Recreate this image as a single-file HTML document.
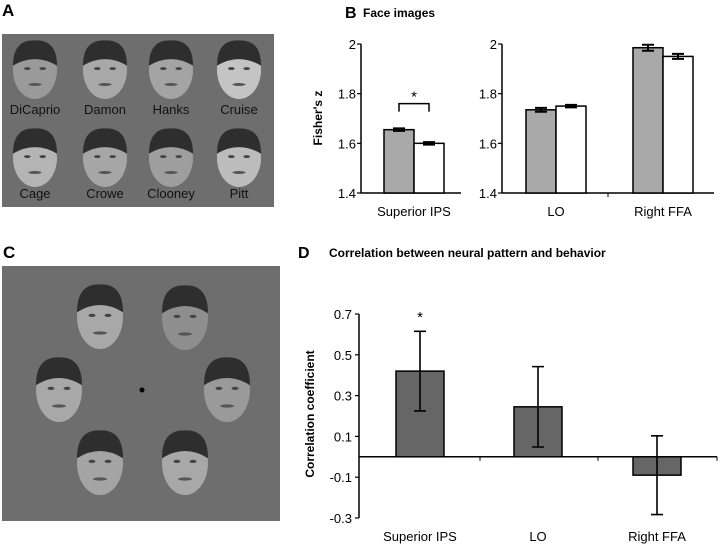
<!DOCTYPE html>
<html><head><meta charset="utf-8"><style>
body{margin:0;background:#fff;width:720px;height:546px;overflow:hidden}
svg{display:block}
text{font-family:"Liberation Sans",Arial,sans-serif}
</style></head><body>
<svg id="fig" width="720" height="546" viewBox="0 0 720 546">
<text x="2" y="16" font-size="17" font-weight="bold">A</text>
<text x="345" y="18" font-size="16" font-weight="bold">B</text>
<text x="363" y="17" font-size="12" font-weight="bold">Face images</text>
<text x="3" y="258" font-size="17" font-weight="bold">C</text>
<text x="298" y="258" font-size="16" font-weight="bold">D</text>
<text x="329" y="257" font-size="12" font-weight="bold">Correlation between neural pattern and behavior</text>
<rect x="2" y="34" width="272" height="173" fill="#6e6e6e"/>
<rect x="2" y="266" width="278" height="255" fill="#6e6e6e"/>
<circle cx="142" cy="390" r="2.5" fill="#000"/>
<g id="faces"></g>
<g id="chartB"></g>
<g id="chartD"></g>
</svg>
<script>
var NS="http://www.w3.org/2000/svg";
function mk(parent,tag,attrs,txt){var e=document.createElementNS(NS,tag);for(var k in attrs)e.setAttribute(k,attrs[k]);if(txt!==undefined)e.textContent=txt;parent.appendChild(e);return e;}

var faceNames=["DiCaprio","Damon","Hanks","Cruise","Cage","Crowe","Clooney","Pitt"];
var faceCols=[35,105,171,239];
var fg=document.getElementById('faces');
function face(cx,cy,rx,ry,shade){
  var g=mk(fg,'g',{});
  
  
  mk(g,'ellipse',{cx:cx,cy:cy,rx:rx,ry:ry,fill:shade});
  mk(g,'path',{d:'M'+(cx-rx)+' '+(cy-ry*0.15)+' Q'+(cx-rx)+' '+(cy-ry*1.05)+' '+cx+' '+(cy-ry*1.02)+' Q'+(cx+rx)+' '+(cy-ry*1.05)+' '+(cx+rx)+' '+(cy-ry*0.15)+' Q'+cx+' '+(cy-ry*0.6)+' '+(cx-rx)+' '+(cy-ry*0.15)+'Z',fill:'#2e2e2e'});
  mk(g,'ellipse',{cx:cx-rx*0.35,cy:cy-ry*0.05,rx:rx*0.15,ry:ry*0.05,fill:'#444'});
  mk(g,'ellipse',{cx:cx+rx*0.35,cy:cy-ry*0.05,rx:rx*0.15,ry:ry*0.05,fill:'#444'});
  mk(g,'ellipse',{cx:cx,cy:cy+ry*0.5,rx:rx*0.3,ry:ry*0.05,fill:'#555'});
}
for(var i=0;i<8;i++){
  var cx=faceCols[i%4], r=Math.floor(i/4);
  face(cx,r?158:70,22,29,['#9a9a9a','#a8a8a8','#a4a4a4','#c4c4c4','#b4b4b4','#a6a6a6','#9e9e9e','#bcbcbc'][i]);
  var t=mk(fg,'text',{x:cx,y:r?198:114,'font-size':13,'text-anchor':'middle',fill:'#111'},faceNames[i]);
  
  
}
[[100,317],[185,318],[59,390],[227,390],[100,463],[185,463]].forEach(function(p,i){face(p[0],p[1],23,32,['#a8a8a8','#8e8e8e','#a8a8a8','#9a9a9a','#a4a4a4','#a8a8a8'][i]);});

var bCats=["Superior IPS","LO","Right FFA"];
var bGray=[1.655,1.735,1.985];
var bGrayErr=[0.005,0.008,0.012];
var bWhite=[1.600,1.750,1.950];
var bWhiteErr=[0.005,0.005,0.010];
var bTicks=[1.4,1.6,1.8,2];
var bTickLabels=["1.4","1.6","1.8","2"];

var dCats=["Superior IPS","LO","Right FFA"];
var dVals=[0.42,0.245,-0.09];
var dErr=[0.195,0.197,0.193];
var dTicks=[-0.3,-0.1,0.1,0.3,0.5,0.7];
var dTickLabels=["-0.3","-0.1","0.1","0.3","0.5","0.7"];

(function(){
  var g=document.getElementById('chartB');
  var y0=193,y1=44,ymin=1.4,ymax=2;
  function Y(v){return y0-(v-ymin)/(ymax-ymin)*(y0-y1);}
  var centers=[414,556,663];
  function X(i){return centers[i];}
  var axes=[[361,461],[502,714]];
  axes.forEach(function(a,k){
    var l=mk(g,'line',{x1:a[0],y1:y1,x2:a[0],y2:y0,stroke:'#000','stroke-width':1.5});
    
    
    var xl=mk(g,'line',{x1:a[0],y1:y0,x2:a[1],y2:y0,stroke:'#000','stroke-width':1.5});
    
    
    bTicks.forEach(function(t,j){
      mk(g,'line',{x1:a[0]-4,y1:Y(t),x2:a[0],y2:Y(t),stroke:'#000','stroke-width':1.2});
      var tl=mk(g,'text',{x:a[0]-5,y:Y(t)+5,'font-size':13,'text-anchor':'end'},bTickLabels[j]);
      
      
    });
  });
  mk(g,'line',{x1:608,y1:y0,x2:608,y2:y0+4,stroke:'#000'});
  var yt=mk(g,'text',{x:0,y:0,'font-size':12,'font-weight':'bold','text-anchor':'middle',transform:'translate(322,118) rotate(-90)'},"Fisher's z");
  
  
  var bw=30;
  bCats.forEach(function(c,i){
    var cx=X(i);
    var r1=mk(g,'rect',{x:cx-bw,y:Y(bGray[i]),width:bw,height:y0-Y(bGray[i]),fill:'#a9a9a9',stroke:'#000','stroke-width':1.5});
    
    
    var r2=mk(g,'rect',{x:cx,y:Y(bWhite[i]),width:bw,height:y0-Y(bWhite[i]),fill:'#fff',stroke:'#000','stroke-width':1.5});
    
    
    [[cx-bw/2,bGray[i],bGrayErr[i]],[cx+bw/2,bWhite[i],bWhiteErr[i]]].forEach(function(e){
      var a=Y(e[1]+e[2]),b=Y(e[1]-e[2]);
      var p=mk(g,'path',{d:'M'+e[0]+' '+a+'V'+b+'M'+(e[0]-6)+' '+a+'H'+(e[0]+6)+'M'+(e[0]-6)+' '+b+'H'+(e[0]+6),stroke:'#000','stroke-width':2,fill:'none'});
      
      
    });
    var lab=mk(g,'text',{x:cx,y:216,'font-size':13,'text-anchor':'middle'},c);
    
    
  });
  var by=Y(1.76);
  var br=mk(g,'path',{d:'M399 '+(by+8)+'V'+by+'H429V'+(by+8),stroke:'#000','stroke-width':1.5,fill:'none'});
  
  
  var st=mk(g,'text',{x:414,y:by-2,'font-size':15,'text-anchor':'middle'},'*');
  
  
})();

(function(){
  var g=document.getElementById('chartD');
  var ymin=-0.3,ymax=0.7,yb=518,yt=314;
  function Y(v){return yb-(v-ymin)/(ymax-ymin)*(yb-yt);}
  var centers=[420,538,657];
  var ax=mk(g,'line',{x1:359,y1:yt,x2:359,y2:yb,stroke:'#000','stroke-width':1.5});
  
  
  var xa=mk(g,'line',{x1:359,y1:Y(0),x2:717,y2:Y(0),stroke:'#000','stroke-width':1.5});
  
  
  [480,598,717].forEach(function(x){mk(g,'line',{x1:x,y1:Y(0),x2:x,y2:Y(0)+4,stroke:'#000'});});
  dTicks.forEach(function(t,j){
    mk(g,'line',{x1:355,y1:Y(t),x2:359,y2:Y(t),stroke:'#000','stroke-width':1.2});
    var tl=mk(g,'text',{x:352,y:Y(t)+5,'font-size':13,'text-anchor':'end'},dTickLabels[j]);
    
    
  });
  var ttl=mk(g,'text',{x:0,y:0,'font-size':12,'font-weight':'bold','text-anchor':'middle',transform:'translate(314,414) rotate(-90)'},'Correlation coefficient');
  
  
  dCats.forEach(function(c,i){
    var cx=centers[i],v=dVals[i];
    var top=Math.min(Y(v),Y(0)),h=Math.abs(Y(v)-Y(0));
    var r=mk(g,'rect',{x:cx-24,y:top,width:48,height:h,fill:'#666',stroke:'#000','stroke-width':1.5});
    
    
    var a=Y(v+dErr[i]),b=Y(v-dErr[i]);
    var p=mk(g,'path',{d:'M'+cx+' '+a+'V'+b+'M'+(cx-6)+' '+a+'H'+(cx+6)+'M'+(cx-6)+' '+b+'H'+(cx+6),stroke:'#000','stroke-width':1.6,fill:'none'});
    
    
    var lab=mk(g,'text',{x:cx,y:541,'font-size':13,'text-anchor':'middle'},c);
    
    
  });
  var st=mk(g,'text',{x:centers[0],y:Y(0.7)+8,'font-size':15,'text-anchor':'middle'},'*');
  
  
})();
</script>
</body></html>
